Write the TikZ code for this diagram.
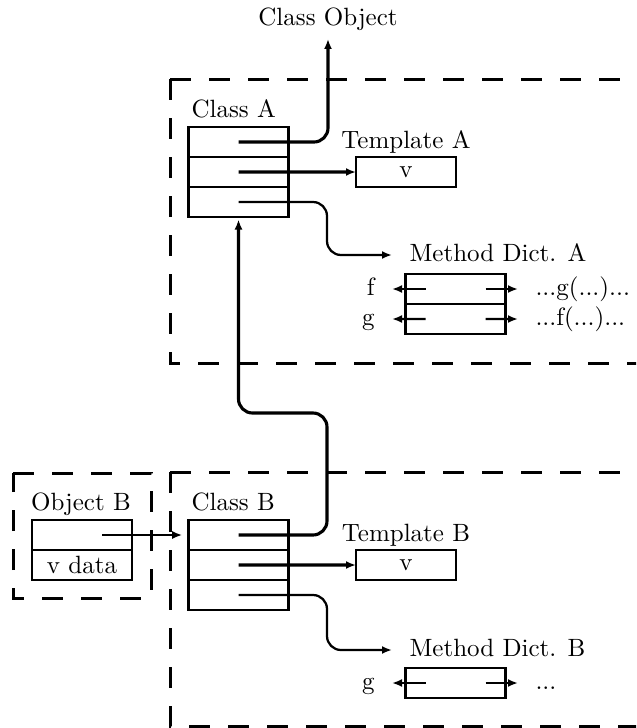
\documentclass[tikz,border=0pt]{standalone}
\usepackage{amsmath}
\usepackage{tikz}
\usetikzlibrary{arrows.meta, positioning}

\begin{document}
\begin{tikzpicture}[x=0.4pt, y=-0.4pt,
		row/.style={draw, line width=1pt, minimum width=40pt, minimum height=12pt, inner sep=0pt, outer sep=0pt},
		frame/.style={line width=1.2pt, dash pattern=on 8.4pt off 7.2pt},
		ptr/.style={line width=0.9pt, rounded corners=5.6pt, -{Latex[length=4pt,width=3.2pt]}},
		bold/.style={ptr, line width=1.25pt},
		lab/.style={inner sep=0pt, outer sep=7pt, text height=6.9pt, text depth=1.9pt}]
	\useasboundingbox (0,0) rectangle (636,728);
	\begin{scope}
		\clip (0,0) rectangle (636,728);
		\draw[frame] (170,79) -- (660,79);
		\draw[frame] (170,79) -- (170,363) -- (660,363);
		\draw[frame] (170,472) -- (660,472);
		\draw[frame] (170,472) -- (170,726) -- (660,726);
		\draw[frame] (13,473) -- (151,473) -- (151,598) -- (13,598) -- cycle;
	\end{scope}

	\node (clsObj) at (328,25) [anchor=base] {Class Object};

	\node[anchor=base west, inner sep=0pt] at (191,117) {Class A};
	\node[row] (clsA1) at (238.5,142) {};
	\node[row, below=0pt of clsA1] (clsA2) {};
	\node[row, below=0pt of clsA2] (clsA3) {};
	\node[anchor=base] at (406,148) {Template A};
	\node[row] (tmplA) at (406,172) {v};
	\node[lab, anchor=west] (mdA) at (392,255) {Method Dict. A};
	\node[row] (mdA1) at (455.5,289) {};
	\node[row, below=0pt of mdA1] (mdA2) {};
	\node[lab, anchor=east] (fA) at (392,289) {f};
	\node[lab, anchor=east] (gA) at (392,319) {g};
	\node[lab, anchor=west] (gcallA) at (518,289) {...g(...)...};
	\node[lab, anchor=west] (fcallA) at (518,319) {...f(...)...};

	\node[anchor=base, inner sep=0pt] at (81,510) {Object B};
	\node[row] (objB1) at (82,535) {};
	\node[row, below=0pt of objB1] (objB2) {v data};

	\node[anchor=base west, inner sep=0pt] at (191,510) {Class B};
	\node[row] (clsB1) at (238.5,535) {};
	\node[row, below=0pt of clsB1] (clsB2) {};
	\node[row, below=0pt of clsB2] (clsB3) {};
	\node[anchor=base] at (406,541) {Template B};
	\node[row] (tmplB) at (406,565) {v};
	\node[lab, anchor=west] (mdB) at (392,650) {Method Dict. B};
	\node[row] (mdB1) at (455.5,683) {};
	\node[lab, anchor=east] (gB) at (392,683) {g};
	\node[lab, anchor=west] (callB) at (518,683) {...};

	\draw[bold] (clsA1.center) -| (clsObj.south);
	\draw[bold] (clsA2.center) -- (tmplA);
	\draw[ptr] (clsA3.center) -| (327,255) -- (mdA);
	\draw[ptr] ([xshift=8pt]mdA1.west) -- (fA);
	\draw[ptr] ([xshift=8pt]mdA2.west) -- (gA);
	\draw[ptr] ([xshift=-8pt]mdA1.east) -- (gcallA);
	\draw[ptr] ([xshift=-8pt]mdA2.east) -- (fcallA);

	\draw[ptr, shorten >=2.5pt] ([xshift=8pt]objB1.center) -- (clsB1);
	\draw[bold, shorten >=1pt] (clsB1.center) -| (327,413) -| (clsA3.south);
	\draw[bold] (clsB2.center) -- (tmplB);
	\draw[ptr] (clsB3.center) -| (327,650) -- (mdB);
	\draw[ptr] ([xshift=8pt]mdB1.west) -- (gB);
	\draw[ptr] ([xshift=-8pt]mdB1.east) -- (callB);
\end{tikzpicture}
\end{document}
